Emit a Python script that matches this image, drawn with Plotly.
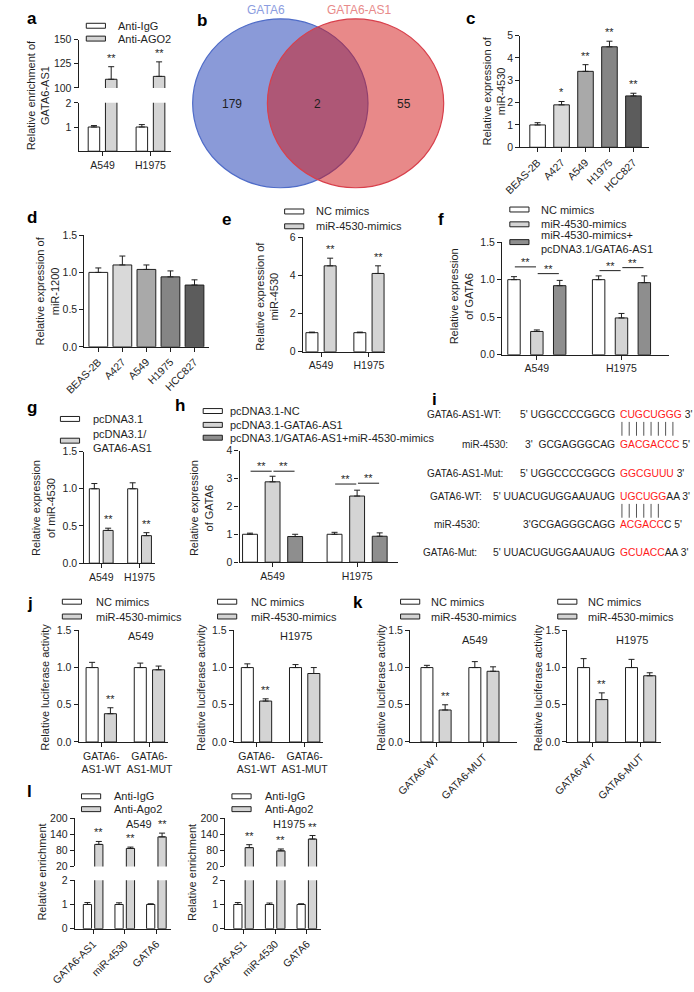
import plotly.graph_objects as go

W, H = 694, 992
FONT = "Arial, Liberation Sans, sans-serif"
INK = "#1f1f1f"
WHITE = "#ffffff"
LIGHT = "#d4d4d4"
GREY = "#8e8e8e"
CELL_COLORS = ["#ffffff", "#d9d9d9", "#a9a9a9", "#858585", "#5c5c5c"]

# ---- data -------------------------------------------------------------
# a: RIP, GATA6-AS1 enrichment
a_cells = ["A549", "H1975"]
a_igg = [1.0, 1.0]
a_igg_err = [0.06, 0.1]
a_ago2 = [109, 112]
a_ago2_err = [13, 15]

# b: venn
venn_names = ["GATA6", "GATA6-AS1"]
venn_counts = [179, 2, 55]

# c / d: cell lines
cell_lines = ["BEAS-2B", "A427", "A549", "H1975", "HCC827"]
c_vals = [1.0, 1.9, 3.4, 4.5, 2.3]
c_err = [0.1, 0.15, 0.3, 0.25, 0.12]
c_sig = ["", "*", "**", "**", "**"]
d_vals = [1.0, 1.1, 1.04, 0.94, 0.83]
d_err = [0.06, 0.12, 0.06, 0.08, 0.07]

# e: mimics
two_cells = ["A549", "H1975"]
e_nc = [1.0, 1.0]
e_nc_err = [0.03, 0.03]
e_mim = [4.5, 4.1]
e_mim_err = [0.4, 0.4]

# f: GATA6 rescue
f_nc = [1.0, 1.0]
f_nc_err = [0.04, 0.05]
f_mim = [0.31, 0.49]
f_mim_err = [0.02, 0.06]
f_res = [0.92, 0.96]
f_res_err = [0.07, 0.09]
f_bracket_y = [[1.17, 1.08], [1.12, 1.16]]

# g: pcDNA3.1 overexpression
g_ctrl = [1.0, 1.0]
g_ctrl_err = [0.07, 0.08]
g_oe = [0.44, 0.37]
g_oe_err = [0.03, 0.04]

# h: GATA6
h_nc = [1.0, 1.0]
h_nc_err = [0.04, 0.07]
h_as1 = [2.88, 2.37]
h_as1_err = [0.2, 0.21]
h_res = [0.92, 0.93]
h_res_err = [0.08, 0.12]
h_bracket_y = [[3.26, 3.26], [2.8, 2.83]]

# i: binding sites
seq_labels = ["GATA6-AS1-WT:", "miR-4530:", "GATA6-AS1-Mut:", "GATA6-WT:", "miR-4530:", "GATA6-Mut:"]
seq_left = ["5' UGGCCCCGGCG", "3'  GCGAGGGCAG", "5' UGGCCCCGGCG",
            "5' UUACUGUGGAAUAUG", "3'GCGAGGGCAGG", "5' UUACUGUGGAAUAUG"]
seq_red = ["CUGCUGGG", "GACGACCC", "GGCGUUU", "UGCUGG", "ACGACC", "GCUACC"]
seq_tail = [" 3'", " 5'", " 3'", "AA 3'", "C 5'", "AA 3'"]
pair_counts = [8, 6]

# j: luciferase GATA6-AS1
j_cats = ["GATA6-<br>AS1-WT", "GATA6-<br>AS1-MUT"]
j_a549_nc = [1.0, 1.0]
j_a549_nc_err = [0.07, 0.06]
j_a549_mim = [0.38, 0.97]
j_a549_mim_err = [0.08, 0.05]
j_h1975_nc = [1.0, 1.0]
j_h1975_nc_err = [0.05, 0.04]
j_h1975_mim = [0.55, 0.92]
j_h1975_mim_err = [0.03, 0.08]

# k: luciferase GATA6
k_cats = ["GATA6-WT", "GATA6-MUT"]
k_a549_nc = [1.0, 1.0]
k_a549_nc_err = [0.03, 0.08]
k_a549_mim = [0.43, 0.95]
k_a549_mim_err = [0.07, 0.06]
k_h1975_nc = [1.0, 1.0]
k_h1975_nc_err = [0.12, 0.11]
k_h1975_mim = [0.57, 0.89]
k_h1975_mim_err = [0.09, 0.04]

# l: RIP Ago2
l_cats = ["GATA6-AS1", "miR-4530", "GATA6"]
l_a549_igg = [1.0, 1.0, 1.0]
l_a549_igg_err = [0.08, 0.07, 0.03]
l_a549_ago2 = [102, 87, 130]
l_a549_ago2_err = [11, 5, 14]
l_h1975_igg = [1.0, 1.0, 1.0]
l_h1975_igg_err = [0.08, 0.06, 0.03]
l_h1975_ago2 = [90, 78, 122]
l_h1975_ago2_err = [11, 7, 13]


# ---- helpers ----------------------------------------------------------
def X(v):
    return v / W


def Y(v):
    return 1 - v / H


fig = go.Figure()
layout = {}
annotations = []
shapes = []
counter = {"x": 0, "y": 0}


def next_id(letter):
    counter[letter] += 1
    return "" if counter[letter] == 1 else str(counter[letter])


def panel(left, right, top, bottom, xr, yr, yticks, yfmt=None, xangle=0, share_x=None):
    xs = share_x if share_x is not None else next_id("x")
    ys = next_id("y")
    layout["yaxis" + ys] = dict(
        domain=[Y(bottom), Y(top)], range=yr, anchor="x" + xs, tickvals=yticks,
        tickformat=yfmt, showgrid=False, zeroline=False, showline=True,
        linecolor=INK, linewidth=1.2, ticks="outside", ticklen=4, tickwidth=1.2,
        tickcolor=INK, tickfont=dict(size=10.5, color=INK),
    )
    if share_x is None:
        layout["xaxis" + xs] = dict(
            domain=[X(left), X(right)], range=xr, anchor="y" + ys, type="category",
            showgrid=False, zeroline=False, showline=True, linecolor=INK,
            linewidth=1.2, ticks="outside", ticklen=4, tickwidth=1.2, tickcolor=INK,
            tickangle=xangle, tickfont=dict(size=10.5, color=INK),
        )
    return xs, ys


def bars(xs, ys, cats, vals, errs, color, offset, width):
    fig.add_trace(
        go.Bar(
            x=cats, y=vals, xaxis="x" + xs, yaxis="y" + ys,
            width=width, offset=offset,
            marker=dict(color=color, line=dict(color=INK, width=1)),
            error_y=dict(type="data", array=errs, arrayminus=[0] * len(errs),
                         symmetric=False, color=INK, thickness=1, width=3),
            showlegend=False, hoverinfo="skip",
        )
    )


def stars(xs, ys, xpos, tops, texts):
    for x, y, t in zip(xpos, tops, texts):
        if t:
            annotations.append(dict(x=x, y=y, xref="x" + xs, yref="y" + ys, text=t,
                                    showarrow=False, yanchor="bottom", yshift=1,
                                    font=dict(size=11)))


def bracket(xs, ys, x0, x1, y):
    shapes.append(dict(type="line", xref="x" + xs, yref="y" + ys, x0=x0, x1=x1,
                       y0=y, y1=y, line=dict(color=INK, width=1)))
    annotations.append(dict(x=(x0 + x1) / 2, y=y, xref="x" + xs, yref="y" + ys,
                            text="**", showarrow=False, yanchor="bottom", yshift=-3,
                            font=dict(size=11)))


def legend(x_sym, x_text, entries):
    for y, color, text in entries:
        shapes.append(dict(type="rect", xref="paper", yref="paper",
                           x0=X(x_sym), x1=X(x_sym + 20), y0=Y(y + 2.5), y1=Y(y - 2.5),
                           fillcolor=color, line=dict(color=INK, width=1)))
        annotations.append(dict(x=X(x_text), y=Y(y), xref="paper", yref="paper",
                                text=text, showarrow=False, xanchor="left",
                                yanchor="middle", align="left", font=dict(size=11)))


def tag(x, y, s):
    annotations.append(dict(x=X(x), y=Y(y), xref="paper", yref="paper",
                            text="<b>" + s + "</b>", showarrow=False,
                            xanchor="left", yanchor="middle",
                            font=dict(size=17, color="#000000")))


def ytitle(x, y, text):
    annotations.append(dict(x=X(x), y=Y(y), xref="paper", yref="paper", text=text,
                            textangle=-90, showarrow=False, xanchor="center",
                            yanchor="middle", font=dict(size=11)))


def note(x, y, text, size=11, anchor="center", color=INK):
    annotations.append(dict(x=X(x), y=Y(y), xref="paper", yref="paper", text=text,
                            showarrow=False, xanchor=anchor, yanchor="middle",
                            font=dict(size=size, color=color)))


def tops(vals, errs):
    return [v + e for v, e in zip(vals, errs)]


def pos(n, center):
    return [i + center for i in range(n)]


# ---- a ----------------------------------------------------------------
tag(1, 13, "a")
xa, ya_lo = panel(57, 153, 98, 147, [-0.5, 1.42], [0, 2], [1, 2])
_, ya_hi = panel(57, 153, 34, 83, None, [100, 150], [100, 125, 150], share_x=xa)
for yy in (ya_lo, ya_hi):
    bars(xa, yy, a_cells, a_igg, a_igg_err, WHITE, -0.3, 0.24)
    bars(xa, yy, a_cells, a_ago2, a_ago2_err, LIGHT, 0.06, 0.24)
stars(xa, ya_hi, pos(2, 0.18), tops(a_ago2, a_ago2_err), ["**", "**"])
legend(65, 96, [(20, WHITE, "Anti-IgG"), (33, LIGHT, "Anti-AGO2")])
ytitle(14, 90, "Relative enrichment of<br>GATA6-AS1")

# ---- b ----------------------------------------------------------------
tag(178, 15, "b")
shapes.append(dict(type="circle", xref="paper", yref="paper", x0=X(176), x1=X(359),
                   y0=Y(184), y1=Y(13), fillcolor="#8a9ad8",
                   line=dict(color="#4f6cc8", width=1.2)))
shapes.append(dict(type="circle", xref="paper", yref="paper", x0=X(254), x1=X(438),
                   y0=Y(184), y1=Y(13), fillcolor="rgba(209,20,20,0.5)",
                   line=dict(color="#d8404c", width=1.2)))
note(253, 4, venn_names[0], 12, color="#8c9de0")
note(350, 4, venn_names[1], 12, color="#e88a8a")
for cx, cnt in zip([217, 306, 397], venn_counts):
    note(cx, 99, str(cnt), 12)

# ---- c ----------------------------------------------------------------
tag(459, 13, "c")
xc, yc = panel(518, 652, 30, 143, [-0.72, 4.64], [0, 5], [0, 1, 2, 3, 4, 5], xangle=-45)
bars(xc, yc, cell_lines, c_vals, c_err, CELL_COLORS, -0.325, 0.65)
stars(xc, yc, pos(5, 0), tops(c_vals, c_err), c_sig)
ytitle(490, 86, "Relative expression of<br>miR-4530")

# ---- d ----------------------------------------------------------------
tag(1, 214, "d")
xd, yd = panel(63, 193, 232, 345, [-0.58, 4.6], [0, 1.5], [0, 0.5, 1, 1.5], ".1f", xangle=-45)
bars(xd, yd, cell_lines, d_vals, d_err, CELL_COLORS, -0.39, 0.78)
ytitle(24, 288, "Relative expression of<br>miR-1200")

# ---- e ----------------------------------------------------------------
tag(205, 216, "e")
xe, ye = panel(291, 377, 234, 350, [-0.38, 1.34], [0, 6], [0, 2, 4, 6])
bars(xe, ye, two_cells, e_nc, e_nc_err, WHITE, -0.315, 0.25)
bars(xe, ye, two_cells, e_mim, e_mim_err, LIGHT, 0.065, 0.25)
stars(xe, ye, pos(2, 0.19), tops(e_mim, e_mim_err), ["**", "**"])
legend(272, 303, [(208, WHITE, "NC mimics"), (223, LIGHT, "miR-4530-mimics")])
ytitle(254, 294, "Relative expression of<br>miR-4530")

# ---- f ----------------------------------------------------------------
tag(430, 216, "f")
xf, yf = panel(499, 673, 239, 353, [-0.41, 1.56], [0, 1.5], [0, 0.5, 1, 1.5], ".1f")
bars(xf, yf, two_cells, f_nc, f_nc_err, WHITE, -0.3435, 0.147)
bars(xf, yf, two_cells, f_mim, f_mim_err, LIGHT, -0.0735, 0.147)
bars(xf, yf, two_cells, f_res, f_res_err, GREY, 0.1965, 0.147)
for i, (y1, y2) in enumerate(f_bracket_y):
    bracket(xf, yf, i - 0.26, i - 0.01, y1)
    bracket(xf, yf, i + 0.01, i + 0.26, y2)
legend(507, 537, [(206, WHITE, "NC mimics"), (221, LIGHT, "miR-4530-mimics"),
                  (239, GREY, "miR-4530-mimics+<br>pcDNA3.1/GATA6-AS1")])
ytitle(457, 294, "Relative expression<br>of GATA6")

# ---- g ----------------------------------------------------------------
tag(1, 406, "g")
xg, yg = panel(63, 137, 451, 564, [-0.44, 1.41], [0, 1.5], [0, 0.5, 1, 1.5], ".1f")
bars(xg, yg, two_cells, g_ctrl, g_ctrl_err, WHITE, -0.31, 0.26)
bars(xg, yg, two_cells, g_oe, g_oe_err, LIGHT, 0.05, 0.26)
stars(xg, yg, pos(2, 0.18), tops(g_oe, g_oe_err), ["**", "**"])
legend(38, 70, [(418, WHITE, "pcDNA3.1"), (440, LIGHT, "pcDNA3.1/<br>GATA6-AS1")])
ytitle(20, 508, "Relative expression<br>of miR-4530")

# ---- h ----------------------------------------------------------------
tag(155, 404, "h")
xh, yh = panel(225, 390, 450, 563, [-0.39, 1.48], [0, 4], [0, 1, 2, 3, 4])
bars(xh, yh, two_cells, h_nc, h_nc_err, WHITE, -0.355, 0.176)
bars(xh, yh, two_cells, h_as1, h_as1_err, LIGHT, -0.088, 0.176)
bars(xh, yh, two_cells, h_res, h_res_err, GREY, 0.179, 0.176)
for i, (y1, y2) in enumerate(h_bracket_y):
    bracket(xh, yh, i - 0.26, i - 0.01, y1)
    bracket(xh, yh, i + 0.01, i + 0.26, y2)
legend(187, 213, [(410, WHITE, "pcDNA3.1-NC"), (424, LIGHT, "pcDNA3.1-GATA6-AS1"),
                  (437, GREY, "pcDNA3.1/GATA6-AS1+miR-4530-mimics")])
ytitle(185, 508, "Relative expression<br>of GATA6")

# ---- i ----------------------------------------------------------------
tag(424, 398, "i")
line_y = [414, 444, 473, 497, 525, 553]
label_x = [418, 455, 418, 422, 426, 414]
for k in range(6):
    note(label_x[k], line_y[k], seq_labels[k], 10, anchor="left")
    note(619, line_y[k], seq_left[k], 10.3, anchor="right")
    note(620, line_y[k], "<span style='color:#ff1a1a'>" + seq_red[k] + "</span>" + seq_tail[k],
         10.3, anchor="left")
for n_pairs, y0 in zip(pair_counts, [421, 504]):
    for p in range(n_pairs):
        xp = 624 + p * 7.6
        shapes.append(dict(type="line", xref="paper", yref="paper", x0=X(xp), x1=X(xp),
                           y0=Y(y0), y1=Y(y0 + 14), line=dict(color="#555555", width=1)))

# ---- j ----------------------------------------------------------------
tag(1, 605, "j")
for left, right, label, nc, nce, mim, mime in [
    (57, 150, "A549", j_a549_nc, j_a549_nc_err, j_a549_mim, j_a549_mim_err),
    (219, 312, "H1975", j_h1975_nc, j_h1975_nc_err, j_h1975_mim, j_h1975_mim_err),
]:
    xj, yj = panel(left, right, 632, 745, [-0.47, 1.38], [0, 1.5], [0, 0.5, 1, 1.5], ".1f")
    bars(xj, yj, j_cats, nc, nce, WHITE, -0.315, 0.25)
    bars(xj, yj, j_cats, mim, mime, LIGHT, 0.065, 0.25)
    stars(xj, yj, [0.19], tops(mim, mime)[:1], ["**"])
    note(left + 65, 638, label, 11)
    legend(left - 17, left + 16, [(603, WHITE, "NC mimics"), (618, LIGHT, "miR-4530-mimics")])
    ytitle(left - 35, 690, "Relative luciferase activity")

# ---- k ----------------------------------------------------------------
tag(341, 604, "k")
for left, right, xr, label, nc, nce, mim, mime in [
    (403, 515, [-0.54, 1.7], "A549", k_a549_nc, k_a549_nc_err, k_a549_mim, k_a549_mim_err),
    (567, 665, [-0.53, 1.43], "H1975", k_h1975_nc, k_h1975_nc_err, k_h1975_mim, k_h1975_mim_err),
]:
    xk, yk = panel(left, right, 632, 745, xr, [0, 1.5], [0, 0.5, 1, 1.5], ".1f", xangle=-45)
    bars(xk, yk, k_cats, nc, nce, WHITE, -0.315, 0.25)
    bars(xk, yk, k_cats, mim, mime, LIGHT, 0.065, 0.25)
    stars(xk, yk, [0.19], tops(mim, mime)[:1], ["**"])
    note(left + 68, 642, label, 11)
    legend(left - 10, left + 20, [(603, WHITE, "NC mimics"), (618, LIGHT, "miR-4530-mimics")])
    ytitle(left - 31, 690, "Relative luciferase activity")

# ---- l ----------------------------------------------------------------
tag(1, 795, "l")
for left, right, label, igg, igge, ago, agoe in [
    (53, 153, "A549", l_a549_igg, l_a549_igg_err, l_a549_ago2, l_a549_ago2_err),
    (210, 310, "H1975", l_h1975_igg, l_h1975_igg_err, l_h1975_ago2, l_h1975_ago2_err),
]:
    xl, yl_lo = panel(left, right, 885, 934, [-0.58, 2.45], [0, 2], [0, 1, 2], xangle=-45)
    _, yl_hi = panel(left, right, 822, 871, None, [20, 200], [20, 80, 140, 200], share_x=xl)
    for yy in (yl_lo, yl_hi):
        bars(xl, yy, l_cats, igg, igge, WHITE, -0.31, 0.26)
        bars(xl, yy, l_cats, ago, agoe, LIGHT, 0.05, 0.26)
    stars(xl, yl_hi, pos(3, 0.18), tops(ago, agoe), ["**", "**", "**"])
    note(left + 67, 828, label, 11)
    legend(left + 7, left + 39, [(800, WHITE, "Anti-IgG"), (813, LIGHT, "Anti-Ago2")])
    ytitle(left - 34, 877, "Relative enrichment")

fig.update_layout(
    width=W,
    height=H,
    margin=dict(l=0, r=0, t=0, b=0),
    paper_bgcolor="white",
    plot_bgcolor="white",
    barmode="overlay",
    showlegend=False,
    font=dict(family=FONT, size=11, color=INK),
    annotations=annotations,
    shapes=shapes,
    **layout,
)

fig.write_html(
    "out.html",
    config={"displayModeBar": False},
    post_script="document.body.style.margin = '0';",
)
